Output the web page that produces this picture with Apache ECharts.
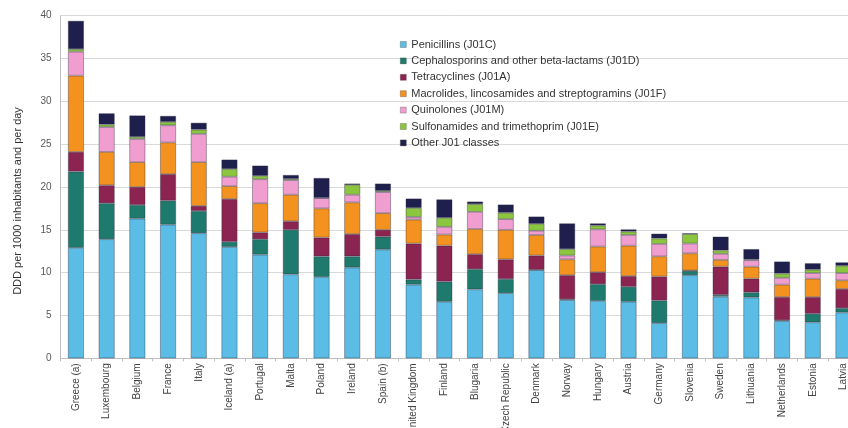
<!DOCTYPE html>
<html>
<head>
<meta charset="utf-8">
<script src="https://cdn.jsdelivr.net/npm/echarts@6/dist/echarts.min.js"></script>
<style>
html,body{margin:0;padding:0;background:#fff;}
#c{width:848px;height:428px;}
</style>
</head>
<body>
<div id="c"></div>
<script>
const categories = ["Greece (a)","Luxembourg","Belgium","France","Italy","Iceland (a)","Portugal","Malta","Poland","Ireland","Spain (b)","United Kingdom","Finland","Blugaria","Czech Republic","Denmark","Norway","Hungary","Austria","Germany","Slovenia","Sweden","Lithuania","Netherlands","Estonia","Latvia"];

const penicillins    = [12.9,13.9,16.3,15.6,14.6,13.0,12.1,9.8,9.5,10.6,12.7,8.6,6.6,8.05,7.6,10.3,6.8,6.7,6.6,4.1,9.7,7.2,7.1,4.35,4.2,5.35];
const cephalosporins = [8.9,4.2,1.6,2.8,2.6,0.6,1.8,5.2,2.4,1.3,1.5,0.6,2.35,2.35,1.65,0.05,0.1,1.95,1.75,2.65,0.5,0.2,0.6,0.1,1.0,0.5];
const tetracyclines  = [2.3,2.1,2.1,3.1,0.6,5.0,0.8,1.0,2.2,2.6,0.8,4.2,4.2,1.75,2.3,1.65,2.8,1.4,1.25,2.8,0.05,3.3,1.6,2.7,1.95,2.25];
const macrolides     = [8.9,3.9,2.9,3.7,5.1,1.5,3.4,3.1,3.4,3.7,1.95,2.8,1.3,2.95,3.45,2.4,1.85,3.0,3.55,2.35,2.0,0.8,1.4,1.45,2.15,1.0];
const quinolones     = [2.8,2.9,2.7,2.0,3.3,1.1,2.8,1.7,1.2,0.9,2.45,0.3,0.9,2.0,1.25,0.5,0.45,2.0,1.25,1.45,1.15,0.7,0.75,0.8,0.65,0.85];
const sulfonamides   = [0.3,0.3,0.25,0.4,0.5,0.9,0.4,0.15,0.05,1.15,0.15,1.05,1.05,0.9,0.75,0.8,0.75,0.45,0.4,0.65,1.1,0.4,0.1,0.5,0.4,0.85];
const otherJ01       = [3.3,1.3,2.5,0.7,0.8,1.1,1.2,0.45,2.3,0.15,0.85,1.1,2.15,0.3,0.95,0.85,3.0,0.25,0.25,0.55,0.1,1.6,1.2,1.4,0.75,0.4];

const seriesNames = ["Penicillins (J01C)","Cephalosporins and other beta-lactams (J01D)","Tetracyclines (J01A)","Macrolides, lincosamides and streptogramins (J01F)","Quinolones (J01M)","Sulfonamides and trimethoprim (J01E)","Other J01 classes"];
const seriesData = [penicillins, cephalosporins, tetracyclines, macrolides, quinolones, sulfonamides, otherJ01];
const colors = ["#5bbde6","#1e7a6c","#8c2452","#f4921f","#f09ecf","#8cc63e","#1f1f4e"];
const yTicks = [0,5,10,15,20,25,30,35,40];

const chart = echarts.init(document.getElementById('c'), null, {renderer:'canvas'});
const font = '"Liberation Sans", Arial, sans-serif';

chart.setOption({
  backgroundColor: '#ffffff',
  animation: false,
  color: colors,
  grid: {left: 60.6, width: 798.2, top: 15.7, bottom: 69.7, containLabel: false, outerBoundsMode: 'none'},
  legend: {
    orient: 'vertical',
    left: 400,
    top: 38,
    padding: 0,
    itemWidth: 6,
    itemHeight: 6,
    itemGap: 3.4,
    icon: 'rect',
    itemStyle: {borderColor: 'rgba(60,60,60,0.5)', borderWidth: 0.6},
    textStyle: {fontFamily: font, fontSize: 11, color: '#333', lineHeight: 13},
    data: seriesNames
  },
  xAxis: {
    type: 'category',
    data: categories,
    axisLine: {show: true, lineStyle: {color: '#bfbfbf', width: 1}},
    axisTick: {show: true, length: 3, lineStyle: {color: '#bfbfbf'}},
    axisLabel: {interval: 0, rotate: 90, margin: 5, fontFamily: font, fontSize: 10, color: '#444'}
  },
  yAxis: {
    type: 'value',
    min: yTicks[0],
    max: yTicks[yTicks.length - 1],
    interval: 5,
    axisLine: {show: true, lineStyle: {color: '#bfbfbf'}},
    axisTick: {show: false},
    splitLine: {show: true, lineStyle: {color: '#d9d9d9', width: 1}},
    axisLabel: {margin: 9, fontFamily: font, fontSize: 10, color: '#595959'}
  },
  graphic: [{
    type: 'text',
    x: 18, y: 201,
    rotation: Math.PI / 2,
    style: {
      text: 'DDD per 1000 inhabitants and per day',
      font: '11px ' + font,
      fill: '#333',
      textAlign: 'center',
      textVerticalAlign: 'middle'
    }
  }],
  series: seriesNames.map((name, i) => ({
    name: name,
    type: 'bar',
    stack: 'total',
    barWidth: '52%',
    data: seriesData[i],
    itemStyle: {color: colors[i], borderColor: 'rgba(40,40,60,0.55)', borderWidth: 0.7}
  }))
});
</script>
</body>
</html>
